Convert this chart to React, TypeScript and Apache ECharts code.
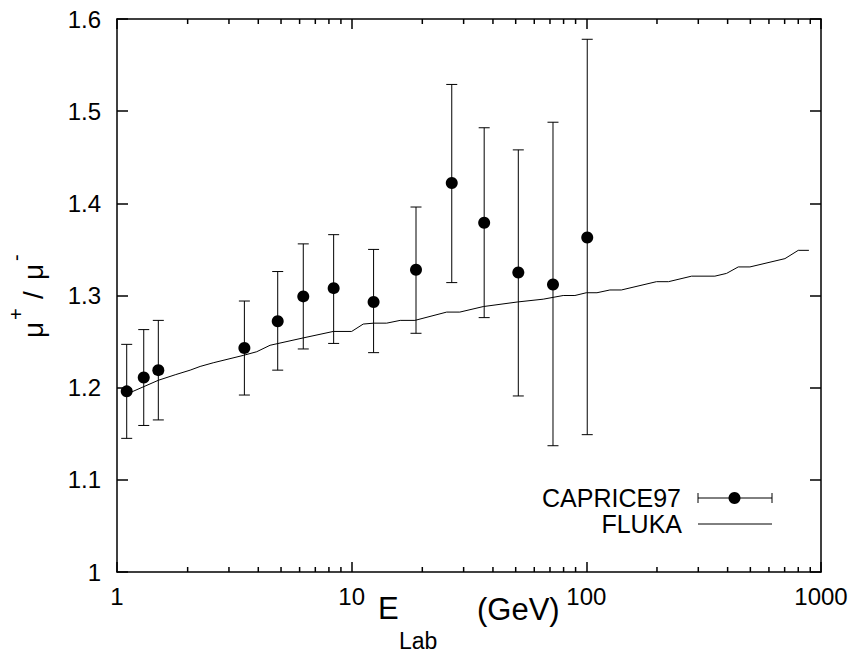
import React, { useEffect, useRef } from 'react';
import * as echarts from 'echarts';

// CAPRICE97 measurements
const energy = [1.10, 1.30, 1.50, 3.49, 4.84, 6.22, 8.38, 12.4, 18.8, 26.7, 36.7, 51.3, 72.1, 100.9];
const ratio = [1.196, 1.211, 1.219, 1.243, 1.272, 1.299, 1.308, 1.293, 1.328, 1.422, 1.379, 1.325, 1.312, 1.363];
const errLow = [1.145, 1.159, 1.165, 1.192, 1.219, 1.242, 1.248, 1.238, 1.259, 1.314, 1.276, 1.191, 1.137, 1.149];
const errHigh = [1.247, 1.263, 1.273, 1.294, 1.326, 1.356, 1.366, 1.350, 1.396, 1.529, 1.482, 1.458, 1.488, 1.578];

// FLUKA prediction
const flukaE = [1.10, 1.50, 1.77, 2.05, 2.26, 2.57, 3.45, 3.94, 4.49, 6.22, 8.35, 10.0, 11.2, 12.4, 14.1, 16.1, 18.6, 25.4, 28.9, 36.4, 51, 65.5, 79.7, 89.4, 100, 111, 126, 141, 199, 224, 281, 353, 396, 444, 498, 702, 800, 888];
const flukaR = [1.193, 1.208, 1.214, 1.219, 1.223, 1.227, 1.235, 1.239, 1.246, 1.254, 1.261, 1.261, 1.269, 1.270, 1.270, 1.273, 1.273, 1.282, 1.282, 1.288, 1.293, 1.296, 1.300, 1.300, 1.303, 1.303, 1.306, 1.306, 1.315, 1.315, 1.321, 1.321, 1.324, 1.331, 1.331, 1.340, 1.349, 1.349];

// axis ticks
const minorTicks = [2, 3, 4, 5, 6, 7, 8, 9, 20, 30, 40, 50, 60, 70, 80, 90, 200, 300, 400, 500, 600, 700, 800, 900];
const xMin = 1;
const xMax = 1000;
const yMin = 1;
const yMax = 1.6;
const yStep = 0.1;

const FONT = '"Liberation Sans", Arial, Helvetica, sans-serif';

export default function App() {
  const ref = useRef<HTMLDivElement>(null);
  useEffect(() => {
    document.body.style.margin = '0';
    const chart = echarts.init(ref.current!, null, { renderer: 'svg' });
    const axisCommon = {
      type: 'log',
      logBase: 10,
      min: xMin,
      max: xMax,
      axisLine: { show: true, onZero: false, lineStyle: { color: '#000', width: 1.5 } },
      axisTick: { show: true, inside: true, length: 10, lineStyle: { color: '#000', width: 1.5 } },
      splitLine: { show: false },
      minorTick: { show: false },
    };
    const yCommon = {
      type: 'value',
      min: yMin,
      max: yMax,
      interval: yStep,
      axisLine: { show: true, lineStyle: { color: '#000', width: 1.5 } },
      axisTick: { show: true, inside: true, length: 11, lineStyle: { color: '#000', width: 1.5 } },
      splitLine: { show: false },
    };
    const option = {
      animation: false,
      backgroundColor: '#fff',
      grid: { left: 117, right: 32, top: 19, bottom: 84 },
      xAxis: [
        {
          ...axisCommon,
          position: 'bottom',
          axisLabel: {
            show: true,
            color: '#000',
            fontSize: 24,
            fontFamily: FONT,
            margin: 12,
            formatter: (v: number) => String(Math.round(v)),
          },
        },
        {
          ...axisCommon,
          position: 'top',
          axisLabel: { show: false },
        },
      ],
      yAxis: [
        {
          ...yCommon,
          position: 'left',
          axisLabel: {
            show: true,
            color: '#000',
            fontSize: 24,
            fontFamily: FONT,
            margin: 16,
            formatter: (v: number) => (Math.abs(v - 1) < 1e-9 ? '1' : v.toFixed(1)),
          },
        },
        {
          ...yCommon,
          position: 'right',
          axisLabel: { show: false },
        },
      ],
      series: [
        {
          name: 'minorTicks',
          type: 'custom',
          xAxisIndex: 0,
          yAxisIndex: 0,
          silent: true,
          clip: false,
          data: minorTicks.map((v) => [v, yMin]),
          encode: { x: 0, y: 1 },
          renderItem: (params: any, api: any) => {
            const x = api.value(0);
            const pb = api.coord([x, yMin]);
            const pt = api.coord([x, yMax]);
            const st = { stroke: '#000', lineWidth: 1.5 };
            return {
              type: 'group',
              children: [
                { type: 'line', shape: { x1: pb[0], y1: pb[1], x2: pb[0], y2: pb[1] - 5 }, style: st },
                { type: 'line', shape: { x1: pt[0], y1: pt[1], x2: pt[0], y2: pt[1] + 5 }, style: st },
              ],
            };
          },
        },
        {
          name: 'FLUKA',
          type: 'line',
          xAxisIndex: 0,
          yAxisIndex: 0,
          data: flukaE.map((e, i) => [e, flukaR[i]]),
          showSymbol: false,
          symbol: 'none',
          lineStyle: { color: '#000', width: 1 },
          z: 2,
        },
        {
          name: 'errors',
          type: 'custom',
          xAxisIndex: 0,
          yAxisIndex: 0,
          data: energy.map((e, i) => [e, errLow[i], errHigh[i]]),
          encode: { x: 0, y: [1, 2] },
          renderItem: (params: any, api: any) => {
            const x = api.value(0);
            const lo = api.coord([x, api.value(1)]);
            const hi = api.coord([x, api.value(2)]);
            const hw = 5.5;
            const st = { stroke: '#000', lineWidth: 1 };
            return {
              type: 'group',
              children: [
                { type: 'line', shape: { x1: lo[0], y1: lo[1], x2: hi[0], y2: hi[1] }, style: st },
                { type: 'line', shape: { x1: lo[0] - hw, y1: lo[1], x2: lo[0] + hw, y2: lo[1] }, style: st },
                { type: 'line', shape: { x1: hi[0] - hw, y1: hi[1], x2: hi[0] + hw, y2: hi[1] }, style: st },
              ],
            };
          },
          z: 3,
        },
        {
          name: 'CAPRICE97',
          type: 'scatter',
          xAxisIndex: 0,
          yAxisIndex: 0,
          data: energy.map((e, i) => [e, ratio[i]]),
          symbol: 'circle',
          symbolSize: 12,
          itemStyle: { color: '#000', opacity: 1 },
          z: 4,
        },
      ],
      graphic: [
        // x axis title
        {
          type: 'text',
          x: 378,
          y: 608,
          style: { text: 'E', font: `31px ${FONT}`, fill: '#000', verticalAlign: 'middle', align: 'left' },
        },
        {
          type: 'text',
          x: 399,
          y: 641,
          style: { text: 'Lab', font: `23px ${FONT}`, fill: '#000', verticalAlign: 'middle', align: 'left' },
        },
        {
          type: 'text',
          x: 477,
          y: 609,
          style: { text: '(GeV)', font: `31px ${FONT}`, fill: '#000', verticalAlign: 'middle', align: 'left' },
        },
        // y axis title
        {
          type: 'group',
          x: 33,
          y: 338,
          rotation: Math.PI / 2,
          children: [
            { type: 'text', x: 0, y: 0, style: { text: 'μ', font: `28px ${FONT}`, fill: '#000', verticalAlign: 'middle', align: 'left' } },
            { type: 'text', x: 18, y: -17, style: { text: '+', font: `20px ${FONT}`, fill: '#000', verticalAlign: 'middle', align: 'left' } },
            { type: 'text', x: 39, y: 0, style: { text: '/', font: `28px ${FONT}`, fill: '#000', verticalAlign: 'middle', align: 'left' } },
            { type: 'text', x: 58, y: 0, style: { text: 'μ', font: `28px ${FONT}`, fill: '#000', verticalAlign: 'middle', align: 'left' } },
            { type: 'text', x: 77, y: -17, style: { text: '-', font: `20px ${FONT}`, fill: '#000', verticalAlign: 'middle', align: 'left' } },
          ],
        },
        // legend
        {
          type: 'text',
          x: 681,
          y: 498,
          style: { text: 'CAPRICE97', font: `25px ${FONT}`, fill: '#000', verticalAlign: 'middle', align: 'right' },
        },
        { type: 'line', shape: { x1: 698, y1: 498, x2: 772, y2: 498 }, style: { stroke: '#000', lineWidth: 1 } },
        { type: 'line', shape: { x1: 698, y1: 493, x2: 698, y2: 503 }, style: { stroke: '#000', lineWidth: 1 } },
        { type: 'line', shape: { x1: 772, y1: 493, x2: 772, y2: 503 }, style: { stroke: '#000', lineWidth: 1 } },
        { type: 'circle', shape: { cx: 734.5, cy: 498, r: 6 }, style: { fill: '#000' } },
        {
          type: 'text',
          x: 682,
          y: 524,
          style: { text: 'FLUKA', font: `25px ${FONT}`, fill: '#000', verticalAlign: 'middle', align: 'right' },
        },
        { type: 'line', shape: { x1: 698, y1: 524, x2: 772, y2: 524 }, style: { stroke: '#000', lineWidth: 1 } },
      ],
    };
    chart.setOption(option as any);
    return () => chart.dispose();
  }, []);
  return <div ref={ref} style={{ width: 853, height: 656 }} />;
}
